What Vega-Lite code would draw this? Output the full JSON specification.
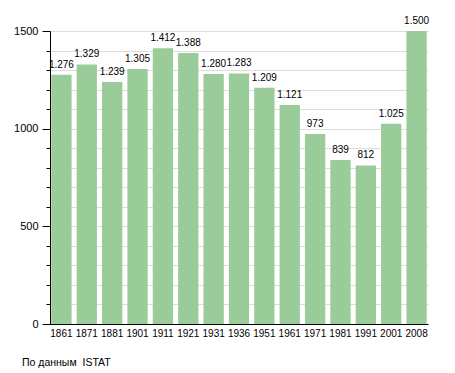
{
  "$schema": "https://vega.github.io/schema/vega-lite/v6.json",
  "width": 378,
  "height": 293,
  "autosize": "none",
  "padding": {"left": 50, "top": 31, "right": 27, "bottom": 49},
  "background": "white",
  "config": {
    "locale": {"number": {"decimal": ",", "thousands": ".", "grouping": [3], "currency": ["", "€"]}},
    "view": {"stroke": null},
    "font": "Liberation Sans"
  },
  "title": {
    "text": "По данным\u00a0 ISTAT",
    "orient": "bottom",
    "anchor": "start",
    "frame": "group",
    "dx": -28,
    "offset": 20,
    "fontSize": 10.5,
    "fontWeight": "normal",
    "font": "Liberation Sans",
    "color": "black"
  },
  "data": {
    "values": [
      {"year": "1861", "pop": 1276},
      {"year": "1871", "pop": 1329},
      {"year": "1881", "pop": 1239},
      {"year": "1901", "pop": 1305},
      {"year": "1911", "pop": 1412},
      {"year": "1921", "pop": 1388},
      {"year": "1931", "pop": 1280},
      {"year": "1936", "pop": 1283},
      {"year": "1951", "pop": 1209},
      {"year": "1961", "pop": 1121},
      {"year": "1971", "pop": 973},
      {"year": "1981", "pop": 839},
      {"year": "1991", "pop": 812},
      {"year": "2001", "pop": 1025},
      {"year": "2008", "pop": 1500}
    ]
  },
  "encoding": {
    "x": {
      "field": "year",
      "type": "nominal",
      "sort": null,
      "scale": {"paddingInner": 0.2, "paddingOuter": 0.05},
      "axis": {
        "title": null,
        "labelAngle": 0,
        "ticks": false,
        "labelPadding": 4,
        "labelFontSize": 10,
        "labelColor": "black",
        "domainColor": "black",
        "grid": false
      }
    },
    "y": {
      "field": "pop",
      "type": "quantitative",
      "scale": {"domain": [0, 1500], "nice": false},
      "axis": {
        "title": null,
        "values": [0, 100, 200, 300, 400, 500, 600, 700, 800, 900, 1000, 1100, 1200, 1300, 1400, 1500],
        "format": "d",
        "labelExpr": "datum.value % 500 === 0 ? datum.value : ''",
        "labelFontSize": 11,
        "labelColor": "black",
        "labelPadding": 4,
        "domainColor": "black",
        "tickColor": "black",
        "tickSize": {"condition": {"test": "datum.value % 500 === 0", "value": 8}, "value": 4},
        "gridColor": "#dddddd",
        "gridWidth": 1
      }
    }
  },
  "layer": [
    {
      "mark": {"type": "bar", "color": "#99cc99"}
    },
    {
      "mark": {"type": "text", "dy": -5, "fontSize": 10, "color": "black", "baseline": "bottom", "font": "Liberation Sans"},
      "encoding": {
        "text": {"field": "pop", "type": "quantitative", "format": ",d"}
      }
    }
  ]
}
